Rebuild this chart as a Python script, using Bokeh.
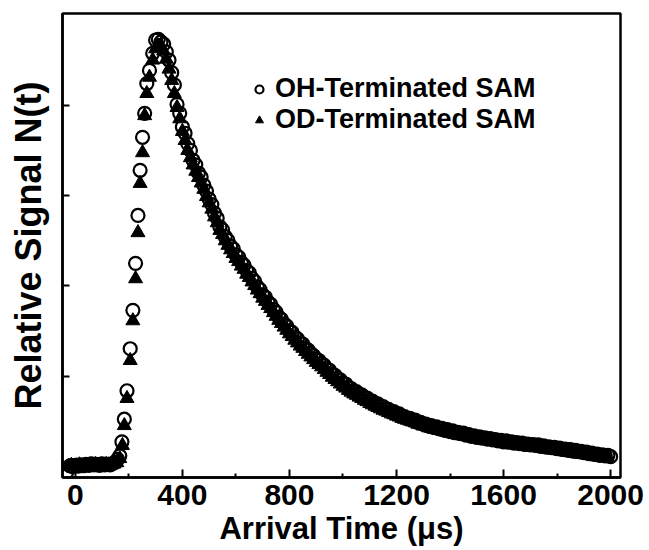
from bokeh.plotting import figure
from bokeh.models import FixedTicker, Range1d, Legend, LegendItem
from bokeh.embed import file_html
from bokeh.resources import INLINE

# ---- data ----
# baseline + rising edge + peak, OH-terminated SAM
oh_rise_x = [-32, -20, -10, 0, 10, 20, 30, 40, 50, 60, 70, 80, 90, 100, 110, 120, 130, 140, 150, 158,
             166, 174, 183, 193, 205, 215, 225, 234, 242, 251, 259, 267, 277, 289, 300, 310]
oh_rise_y = [-0.012, 0.002, 0.000, 0.003, 0.001, 0.004, 0.002, 0.005, 0.003, 0.006, 0.004, 0.005,
             0.003, 0.006, 0.004, 0.005, 0.004, 0.007, 0.010, 0.016,
             0.024, 0.055, 0.105, 0.168, 0.261, 0.346, 0.450, 0.556, 0.656, 0.729, 0.782, 0.848,
             0.877, 0.915, 0.944, 0.946]
# decay, OH, sampled every 10 us from 320 to 2000
oh_decay_x = list(range(320, 2001, 10))
oh_decay_y = [0.940, 0.935, 0.918, 0.900, 0.872, 0.845, 0.802, 0.782, 0.752, 0.738,
              0.715, 0.700, 0.678, 0.668, 0.650, 0.641, 0.623, 0.610, 0.592, 0.580,
              0.561, 0.550, 0.531, 0.524, 0.509, 0.501, 0.488, 0.482, 0.469, 0.464,
              0.452, 0.446, 0.434, 0.429, 0.417, 0.410, 0.398, 0.392, 0.380, 0.375,
              0.364, 0.359, 0.348, 0.342, 0.331, 0.326, 0.316, 0.311, 0.301, 0.297,
              0.287, 0.283, 0.274, 0.271, 0.262, 0.258, 0.250, 0.246, 0.238, 0.235,
              0.228, 0.224, 0.216, 0.213, 0.205, 0.202, 0.195, 0.192, 0.185, 0.183,
              0.175, 0.173, 0.167, 0.166, 0.160, 0.159, 0.153, 0.152, 0.146, 0.145,
              0.140, 0.139, 0.134, 0.133, 0.128, 0.127, 0.122, 0.122, 0.117, 0.117,
              0.112, 0.111, 0.107, 0.107, 0.103, 0.103, 0.098, 0.098, 0.094, 0.094,
              0.090, 0.091, 0.087, 0.088, 0.084, 0.085, 0.081, 0.082, 0.078, 0.079,
              0.075, 0.076, 0.073, 0.074, 0.070, 0.071, 0.067, 0.068, 0.065, 0.066,
              0.063, 0.064, 0.061, 0.062, 0.059, 0.060, 0.057, 0.058, 0.055, 0.057,
              0.054, 0.055, 0.052, 0.053, 0.051, 0.052, 0.049, 0.050, 0.048, 0.049,
              0.047, 0.048, 0.045, 0.046, 0.043, 0.044, 0.042, 0.043, 0.040, 0.041,
              0.038, 0.039, 0.037, 0.038, 0.035, 0.036, 0.033, 0.034, 0.031, 0.032,
              0.029, 0.030, 0.027, 0.028, 0.025, 0.026, 0.024, 0.025, 0.022]

# baseline + rising edge + peak, OD-terminated SAM
od_rise_x = [-25, -15, -5, 5, 15, 25, 35, 45, 55, 65, 75, 85, 95, 105, 115, 125, 135, 145, 155,
             166, 176, 183, 193, 205, 215, 225, 234, 242, 251, 259, 267, 277, 289, 300, 308, 318]
od_rise_y = [0.001, 0.003, 0.001, 0.002, 0.004, 0.001, 0.003, 0.002, 0.004, 0.003, 0.005, 0.002,
             0.004, 0.003, 0.005, 0.004, 0.006, 0.006, 0.009,
             0.018, 0.047, 0.091, 0.151, 0.235, 0.323, 0.416, 0.518, 0.627, 0.695, 0.777, 0.826,
             0.862, 0.900, 0.925, 0.932, 0.930]
# decay, OD, sampled every 10 us from 330 to 1990
od_decay_x = list(range(330, 1991, 10))
od_decay_y = [0.920, 0.902, 0.880, 0.855, 0.826, 0.795, 0.770, 0.742, 0.722, 0.700,
              0.684, 0.668, 0.654, 0.640, 0.628, 0.614, 0.598, 0.584, 0.570, 0.553,
              0.540, 0.523, 0.514, 0.500, 0.490, 0.480, 0.472, 0.461, 0.454, 0.444,
              0.437, 0.426, 0.419, 0.409, 0.401, 0.391, 0.383, 0.373, 0.366, 0.357,
              0.350, 0.341, 0.333, 0.324, 0.317, 0.309, 0.302, 0.294, 0.288, 0.280,
              0.274, 0.267, 0.262, 0.255, 0.249, 0.243, 0.237, 0.231, 0.226, 0.221,
              0.215, 0.209, 0.204, 0.198, 0.193, 0.188, 0.183, 0.178, 0.174, 0.169,
              0.165, 0.161, 0.158, 0.154, 0.151, 0.147, 0.144, 0.140, 0.137, 0.134,
              0.131, 0.128, 0.125, 0.123, 0.120, 0.117, 0.115, 0.112, 0.110, 0.107,
              0.105, 0.103, 0.101, 0.099, 0.097, 0.094, 0.093, 0.090, 0.089, 0.086,
              0.085, 0.083, 0.082, 0.080, 0.079, 0.077, 0.076, 0.074, 0.073, 0.071,
              0.070, 0.069, 0.068, 0.067, 0.066, 0.065, 0.064, 0.063, 0.062, 0.061,
              0.060, 0.059, 0.058, 0.057, 0.056, 0.055, 0.054, 0.053, 0.052, 0.051,
              0.050, 0.049, 0.049, 0.048, 0.047, 0.046, 0.046, 0.045, 0.044, 0.043,
              0.042, 0.041, 0.040, 0.040, 0.039, 0.038, 0.037, 0.036, 0.035, 0.034,
              0.033, 0.032, 0.031, 0.030, 0.029, 0.028, 0.028, 0.027, 0.026, 0.025,
              0.024, 0.023, 0.022, 0.022, 0.021, 0.020, 0.020]

x_ticks = [0, 400, 800, 1200, 1600, 2000]
x_minor = [200, 600, 1000, 1400, 1800]
y_ticks = [0.2, 0.4, 0.6, 0.8]
series_names = ["OH-Terminated SAM", "OD-Terminated SAM"]

oh_x = oh_rise_x + oh_decay_x
oh_y = oh_rise_y + oh_decay_y
od_x = od_rise_x + od_decay_x
od_y = od_rise_y + od_decay_y
n = min(len(oh_x), len(oh_y)); oh_x, oh_y = oh_x[:n], oh_y[:n]
n = min(len(od_x), len(od_y)); od_x, od_y = od_x[:n], od_y[:n]

FONT = "Liberation Sans"

p = figure(width=649, height=550, output_backend="svg", toolbar_location=None,
           x_range=Range1d(-48, 2037), y_range=Range1d(-0.024, 1.003),
           min_border_left=62, min_border_right=29, min_border_top=13, min_border_bottom=73)
p.background_fill_color = "white"
p.border_fill_color = "white"
p.xgrid.visible = False
p.ygrid.visible = False
p.outline_line_color = "black"
p.outline_line_width = 2.5

# x axis
xa = p.xaxis[0]
xa.ticker = FixedTicker(ticks=x_ticks, minor_ticks=x_minor)
xa.major_tick_in = 8
xa.major_tick_out = 0
xa.minor_tick_in = 4
xa.minor_tick_out = 0
xa.major_tick_line_width = 2
xa.minor_tick_line_width = 2
xa.axis_line_width = 2.5
xa.axis_line_color = "black"
xa.major_tick_line_color = "black"
xa.minor_tick_line_color = "black"
xa.major_label_text_font = FONT
xa.major_label_text_font_style = "bold"
xa.major_label_text_font_size = "30px"
xa.major_label_text_color = "black"
xa.major_label_standoff = 7
xa.axis_label = "Arrival Time (μs)"
xa.axis_label_text_font = FONT
xa.axis_label_text_font_style = "bold"
xa.axis_label_text_font_size = "31px"
xa.axis_label_text_color = "black"
xa.axis_label_standoff = 3

# y axis
ya = p.yaxis[0]
ya.ticker = FixedTicker(ticks=y_ticks, minor_ticks=[])
ya.major_tick_in = 7
ya.major_tick_out = 0
ya.major_tick_line_width = 2
ya.axis_line_width = 2.5
ya.axis_line_color = "black"
ya.major_tick_line_color = "black"
ya.major_label_overrides = {t: "" for t in y_ticks}
ya.major_label_standoff = 0
ya.axis_label = "Relative Signal N(t)"
ya.axis_label_text_font = FONT
ya.axis_label_text_font_style = "bold"
ya.axis_label_text_font_size = "36px"
ya.axis_label_text_color = "black"
ya.axis_label_standoff = 14

r_oh = p.scatter(oh_x, oh_y, marker="circle", size=13, fill_color=None,
                 line_color="black", line_width=2.2)
r_od = p.scatter(od_x, od_y, marker="triangle", size=14, fill_color="black",
                 line_color="black", line_width=1)

legend = Legend(items=[LegendItem(label=series_names[0], renderers=[r_oh]),
                       LegendItem(label=series_names[1], renderers=[r_od])],
                location=(187, 342), orientation="vertical")
legend.border_line_color = None
legend.background_fill_alpha = 0
legend.padding = 0
legend.margin = 0
legend.spacing = 0
legend.glyph_width = 20
legend.glyph_height = 26
legend.label_height = 26
legend.label_standoff = 6
legend.label_text_font = FONT
legend.label_text_font_style = "bold"
legend.label_text_font_size = "27px"
legend.label_text_color = "black"
p.add_layout(legend, "center")

open("out.html", "w").write(file_html(p, INLINE))
